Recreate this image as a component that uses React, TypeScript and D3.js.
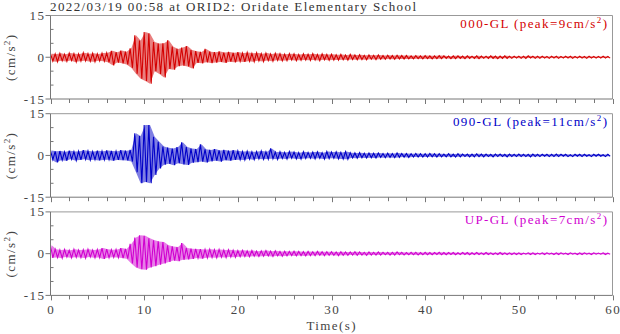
import React from "react";
import * as d3 from "d3";

// ---- data (per 0.5 s bin: max and min acceleration, cm/s^2) ----
const sampleStep = 0.5;

const hi000 = [
  1.3,1.2,1.4,1.1,1.5,1.3,1.2,1.6,1.3,1.4,1.2,1.5,1.6,2.3,1.8,2.4,2.0,3.2,7.9,6.0,
  9.1,8.5,5.5,4.9,5.0,6.1,3.8,3.0,3.5,4.0,2.6,2.2,1.9,3.0,2.0,1.8,2.1,1.7,1.9,1.6,
  1.8,1.5,1.7,1.4,1.6,1.3,1.5,1.2,1.4,1.3,1.1,1.3,1.2,1.0,1.2,1.1,1.3,1.0,1.2,1.0,
  1.1,0.9,1.0,0.8,1.0,0.8,0.9,0.7,0.8,0.7,0.8,0.6,0.7,0.6,0.7,0.6,0.6,0.5,0.6,0.5,
  0.6,0.5,0.5,0.6,0.5,0.4,0.5,0.5,0.4,0.5,0.4,0.5,0.4,0.4,0.5,0.4,0.4,0.5,0.4,0.4,
  0.4,0.4,0.5,0.4,0.4,0.4,0.3,0.4,0.4,0.3,0.4,0.4,0.3,0.4,0.3,0.4,0.3,0.3,0.4,0.3,
];
const lo000 = [
  -1.4,-1.6,-1.3,-1.5,-1.2,-1.7,-1.4,-1.3,-1.5,-1.6,-1.3,-1.4,-1.8,-2.9,-1.9,-2.2,-2.6,-3.8,-5.9,-7.7,
  -8.5,-9.5,-5.0,-6.0,-7.3,-4.2,-4.5,-3.2,-3.0,-3.3,-4.0,-2.0,-2.2,-1.8,-2.1,-1.9,-1.7,-2.0,-1.6,-1.8,
  -1.5,-1.7,-1.4,-1.6,-1.3,-1.5,-1.2,-1.4,-1.1,-1.3,-1.2,-1.0,-1.2,-1.1,-1.0,-1.1,-1.0,-1.2,-0.9,-1.1,
  -1.0,-1.0,-0.9,-1.0,-0.8,-0.9,-0.8,-0.9,-0.7,-0.8,-0.7,-0.7,-0.6,-0.7,-0.6,-0.6,-0.6,-0.6,-0.5,-0.6,
  -0.5,-0.6,-0.5,-0.5,-0.4,-0.5,-0.5,-0.4,-0.5,-0.4,-0.4,-0.5,-0.4,-0.4,-0.4,-0.5,-0.4,-0.4,-0.4,-0.3,
  -0.4,-0.4,-0.3,-0.4,-0.4,-0.3,-0.4,-0.3,-0.4,-0.3,-0.3,-0.4,-0.3,-0.3,-0.4,-0.3,-0.3,-0.3,-0.3,-0.3,
];

const hi090 = [
  1.8,1.5,1.6,1.3,1.7,1.4,1.5,1.9,1.6,1.4,1.7,1.5,1.8,1.6,1.5,1.9,1.7,2.0,8.0,7.0,
  10.9,10.9,6.7,4.9,3.2,2.8,2.5,3.0,4.7,3.0,2.5,2.3,4.0,2.2,2.0,2.3,1.8,2.0,1.7,1.9,
  1.6,1.4,1.5,1.3,1.4,1.6,1.3,2.5,1.2,1.3,1.1,1.4,1.2,1.0,1.3,1.1,1.2,1.3,1.0,1.4,
  1.2,1.3,1.1,1.4,1.0,0.9,1.0,0.8,0.9,0.8,0.9,0.7,0.8,0.7,0.9,0.7,0.7,0.6,0.7,0.6,
  0.6,0.7,0.6,0.6,0.5,0.6,0.5,0.6,0.5,0.5,0.5,0.6,0.5,0.5,0.4,0.5,0.5,0.4,0.5,0.4,
  0.5,0.4,0.4,0.5,0.4,0.4,0.4,0.4,0.5,0.4,0.4,0.3,0.4,0.4,0.4,0.3,0.4,0.4,0.3,0.4,
];
const lo090 = [
  -1.5,-2.5,-1.7,-1.9,-1.4,-1.8,-1.6,-1.4,-1.7,-1.5,-1.8,-1.6,-1.5,-1.9,-1.6,-1.7,-1.8,-2.2,-6.0,-10.0,
  -9.5,-10.0,-7.0,-4.7,-3.3,-3.0,-3.5,-2.8,-3.2,-3.4,-2.6,-2.4,-2.2,-2.5,-2.1,-1.9,-2.2,-1.7,-1.9,-1.6,
  -1.5,-1.6,-1.3,-1.5,-1.2,-1.4,-1.3,-1.2,-1.4,-1.1,-1.3,-1.0,-1.2,-1.3,-1.1,-1.0,-1.2,-1.0,-1.3,-1.1,
  -1.0,-1.2,-1.3,-1.4,-0.9,-1.0,-0.8,-0.9,-0.8,-0.9,-0.7,-0.8,-0.7,-0.8,-0.7,-0.6,-0.7,-0.6,-0.6,-0.6,
  -0.6,-0.5,-0.6,-0.5,-0.5,-0.5,-0.6,-0.5,-0.4,-0.5,-0.5,-0.4,-0.5,-0.4,-0.5,-0.4,-0.4,-0.5,-0.4,-0.4,
  -0.4,-0.4,-0.5,-0.4,-0.4,-0.3,-0.4,-0.4,-0.4,-0.3,-0.4,-0.4,-0.3,-0.4,-0.3,-0.4,-0.3,-0.3,-0.4,-0.3,
];

const hiUP = [
  3.0,1.6,1.3,1.5,1.2,1.6,1.3,1.4,1.6,1.3,1.5,2.0,1.6,1.4,1.5,2.0,1.7,3.5,5.8,6.6,
  6.4,5.5,4.8,4.4,4.2,3.0,2.6,2.4,3.8,2.0,1.8,1.7,1.6,1.5,1.6,1.4,1.5,1.3,1.4,1.2,
  1.1,1.2,1.0,1.1,0.9,1.0,1.1,0.9,1.0,0.8,0.9,0.8,0.9,0.8,0.7,0.8,0.7,0.8,0.7,0.7,
  0.7,0.6,0.7,0.6,0.6,0.7,0.6,0.5,0.6,0.5,0.6,0.5,0.5,0.5,0.6,0.5,0.4,0.5,0.5,0.4,
  0.5,0.4,0.4,0.5,0.4,0.4,0.4,0.3,0.4,0.4,0.3,0.4,0.3,0.4,0.3,0.3,0.4,0.3,0.3,0.3,
  0.3,0.2,0.3,0.3,0.2,0.3,0.3,0.2,0.3,0.3,0.2,0.3,0.2,0.3,0.3,0.2,0.3,0.2,0.3,0.2,
];
const loUP = [
  -1.5,-1.4,-1.6,-1.2,-1.5,-1.3,-1.4,-1.6,-1.2,-1.5,-1.4,-1.9,-1.5,-1.3,-1.4,-1.6,-1.8,-3.5,-5.0,-5.6,
  -5.8,-5.0,-4.5,-4.0,-3.5,-3.0,-2.5,-2.7,-2.2,-2.1,-1.9,-1.6,-1.8,-1.5,-1.4,-1.5,-1.3,-1.4,-1.2,-1.3,
  -1.1,-1.0,-1.1,-0.9,-1.0,-0.9,-0.8,-1.0,-0.8,-0.9,-0.8,-0.7,-0.8,-0.7,-0.8,-0.7,-0.7,-0.6,-0.7,-0.6,
  -0.6,-0.7,-0.6,-0.6,-0.5,-0.6,-0.5,-0.6,-0.5,-0.5,-0.5,-0.4,-0.5,-0.5,-0.4,-0.5,-0.4,-0.4,-0.5,-0.4,
  -0.4,-0.4,-0.3,-0.4,-0.4,-0.3,-0.4,-0.3,-0.3,-0.4,-0.3,-0.3,-0.3,-0.3,-0.3,-0.3,-0.3,-0.3,-0.3,-0.3,
  -0.3,-0.2,-0.3,-0.3,-0.2,-0.3,-0.2,-0.3,-0.3,-0.2,-0.3,-0.2,-0.3,-0.3,-0.2,-0.3,-0.2,-0.2,-0.3,-0.2,
];

const componentNames = ["000-GL", "090-GL", "UP-GL"];
const peakValues = [9, 11, 7];
const traceColors = ["#d40000", "#0000c8", "#d000d0"];
const highs = [hi000, hi090, hiUP];
const lows = [lo000, lo090, loUP];

const xMajorTicks = [0, 10, 20, 30, 40, 50, 60];
const xMinorTicks = d3.range(0, 61, 2);
const yMajorTicks = [-15, 0, 15];
const yMinorTicks = [-10, -5, 5, 10];

const titleText = "2022/03/19 00:58 at ORID2: Oridate Elementary School";

// ---- layout ----
const W = 620;
const H = 334;
const left = 50.5;
const right = 612.5;
const panelTop0 = 15.5;
const panelStep = 98.2;
const panelH = 83.5;
const FONT = "'Liberation Serif', 'Times New Roman', serif";
const LS = 1.4;

type Bin = { t: number; hi: number; lo: number };

export default function App() {
  const x = d3.scaleLinear().domain([0, 60]).range([left, right]);

  return (
    <svg
      width={W}
      height={H}
      style={{ position: "absolute", left: 0, top: 0, background: "#fff" }}
      fontFamily={FONT}
    >
      <text x={50} y={10.5} fontSize={13} fill="#333" letterSpacing={LS}>
        {titleText}
      </text>

      {componentNames.map((name, p) => {
        const top = panelTop0 + p * panelStep;
        const bottom = top + panelH;
        const y = d3.scaleLinear().domain([-15, 15]).range([bottom, top]);
        const hi = highs[p];
        const lo = lows[p];
        const bins: Bin[] = hi.map((v, i) => ({ t: i * sampleStep, hi: v, lo: lo[i] }));
        const area = d3
          .area<Bin>()
          .x((d) => x(d.t + sampleStep / 4))
          .y0((d) => y(d.lo))
          .y1((d) => y(d.hi));
        const pts: [number, number][] = [];
        bins.forEach((b) => {
          pts.push([x(b.t), y(b.hi)]);
          pts.push([x(b.t + sampleStep / 2), y(b.lo)]);
        });
        const zig = d3.line();
        const yc = y(0);
        return (
          <g key={name}>
            <clipPath id={`clip${p}`}>
              <rect x={left} y={top} width={right - left} height={panelH} />
            </clipPath>
            <g clipPath={`url(#clip${p})`}>
              <path d={area(bins) || ""} fill={traceColors[p]} fillOpacity={0.5} stroke="none" />
              <path
                d={zig(pts) || ""}
                fill="none"
                stroke={traceColors[p]}
                strokeWidth={1.1}
                strokeLinejoin="miter"
              />
            </g>
            {/* frame */}
            <line x1={left} x2={right} y1={top} y2={top} stroke="#999" />
            <line x1={right} x2={right} y1={top} y2={bottom} stroke="#999" />
            <line x1={left} x2={right} y1={bottom} y2={bottom} stroke="#777" />
            <line x1={left} x2={left} y1={top} y2={bottom} stroke="#777" />
            {/* x ticks */}
            {xMinorTicks.map((t) => (
              <line
                key={`xm${t}`}
                x1={Math.round(x(t)) + 0.5}
                x2={Math.round(x(t)) + 0.5}
                y1={bottom}
                y2={bottom + (t % 10 === 0 ? 5 : 4)}
                stroke="#777"
              />
            ))}
            {/* y ticks */}
            {yMajorTicks.map((v) => (
              <g key={`ym${v}`}>
                <line x1={left - 5} x2={left} y1={y(v)} y2={y(v)} stroke="#777" />
                <text
                  x={44 + LS}
                  y={y(v) + 4.5}
                  fontSize={13}
                  fill="#444"
                  textAnchor="end"
                  letterSpacing={LS}
                >
                  {v}
                </text>
              </g>
            ))}
            {yMinorTicks.map((v) => (
              <line key={`yn${v}`} x1={left} x2={left + 3} y1={y(v)} y2={y(v)} stroke="#777" />
            ))}
            {/* y label */}
            <text
              transform={`translate(15,${yc}) rotate(-90)`}
              fontSize={13}
              fill="#444"
              textAnchor="middle"
              letterSpacing={LS}
            >
              (cm/s<tspan dy={-5} fontSize={9}>2</tspan>
              <tspan dy={5}>)</tspan>
            </text>
            {/* component label */}
            <text
              x={607 + LS}
              y={top + 12.5}
              fontSize={13}
              fill={traceColors[p]}
              textAnchor="end"
              letterSpacing={LS}
            >
              {name} (peak={peakValues[p]}cm/s<tspan dy={-5} fontSize={9}>2</tspan>
              <tspan dy={5}>)</tspan>
            </text>
            {p === componentNames.length - 1 &&
              xMajorTicks.map((t) => (
                <text
                  key={`xl${t}`}
                  x={x(t) + LS / 2}
                  y={313.5}
                  fontSize={13}
                  fill="#444"
                  textAnchor="middle"
                  letterSpacing={LS}
                >
                  {t}
                </text>
              ))}
          </g>
        );
      })}

      <text x={331 + LS / 2} y={329.5} fontSize={13} fill="#444" textAnchor="middle" letterSpacing={LS}>
        Time(s)
      </text>
    </svg>
  );
}
